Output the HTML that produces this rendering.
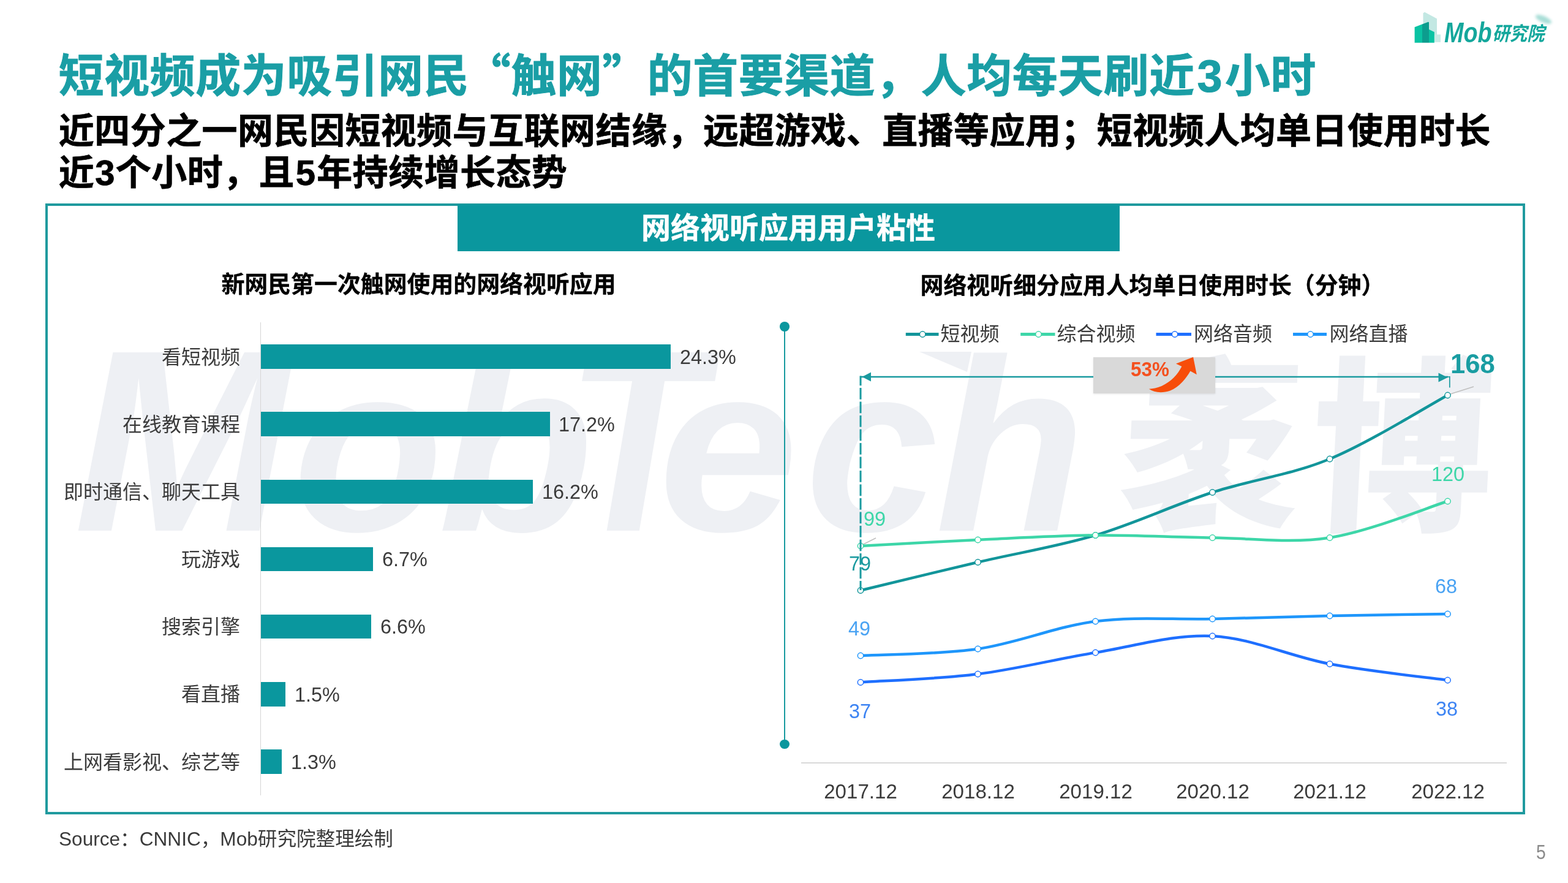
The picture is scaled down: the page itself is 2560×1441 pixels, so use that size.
<!DOCTYPE html>
<html lang="zh-CN">
<head>
<meta charset="utf-8">
<title>短视频成为吸引网民“触网”的首要渠道</title>
<style>
html,body{margin:0;padding:0;background:#fff;}
body{width:2560px;height:1441px;position:relative;overflow:hidden;font-family:"Liberation Sans","Noto Sans CJK SC",sans-serif;color:#000;}
.abs,.bl,.bar,.bv,.xl,.lg,.dl{position:absolute;white-space:nowrap;}
.cjk{font-family:"Noto Sans CJK SC",sans-serif;}
#title{left:95.8px;top:63.1px;font-size:73.8px;letter-spacing:0.7px;line-height:110px;font-weight:700;color:#1a9ea5;-webkit-text-stroke:1px #1a9ea5;}
#sub{left:95.8px;top:180.3px;font-size:58px;letter-spacing:0.45px;line-height:67.5px;font-weight:700;color:#000;-webkit-text-stroke:0.75px #000;}
#box{left:73.6px;top:332px;width:2408.9px;height:989.4px;border:4px solid #1f9a9e;}
#banner{left:746.5px;top:334px;width:1081px;height:76px;background:#0a979e;color:#fff;font-size:48px;font-weight:700;line-height:78.4px;text-align:center;-webkit-text-stroke:0.4px #fff;}
.ct{font-size:37.9px;font-weight:700;line-height:50px;color:#000;text-align:center;-webkit-text-stroke:0.35px #000;}
#ct1{left:283.5px;width:800px;top:438.5px;}
#ct2{left:1481.5px;width:800px;top:441px;}
#axis{left:424.5px;top:526px;width:1.8px;height:772px;background:#d6d6d6;}
.bl{left:0;width:392px;text-align:right;font-size:32px;line-height:48px;color:#3b3b3b;}
.bar{left:426.3px;height:39.6px;background:#0a979e;}
.bv{font-size:34px;line-height:48px;color:#3b3b3b;transform:scaleX(0.953);transform-origin:0 50%;}
#div{left:1279.9px;top:533px;width:2.2px;height:681px;background:#189a9f;}
.dot{position:absolute;width:15.6px;height:15.6px;border-radius:50%;background:#0a979e;left:1273.1px;}
#xaxis{left:1307.5px;top:1244px;width:1152.5px;height:2px;background:#d9d9d9;}
.xl{width:200px;text-align:center;top:1267.3px;font-size:34px;line-height:48px;color:#3b3b3b;transform:scaleX(0.973);}
.lg{top:521px;font-size:32px;line-height:48px;color:#3b3b3b;}
.dl{font-size:34px;line-height:40px;transform:scaleX(0.953);transform-origin:0 50%;}
#gbox{left:1785px;top:583px;width:199.2px;height:59.4px;background:#d9d9d9;box-shadow:0 1px 3px rgba(0,0,0,0.10);}
#src{left:96px;top:1345px;font-size:31.6px;line-height:48px;color:#3a3a3a;}
#pg{left:2499.5px;width:32px;text-align:center;top:1366.5px;font-size:33px;line-height:48px;color:#8a8a8a;transform:scaleX(0.86);}
svg{position:absolute;left:0;top:0;overflow:visible;}
</style>
</head>
<body>
<svg id="wmsvg" width="2560" height="1441" viewBox="0 0 2560 1441" font-family="'Liberation Sans','Noto Sans CJK SC',sans-serif" font-weight="700" font-style="italic" fill="#eef0f4">
<text y="866"><tspan x="120.4" font-size="423">M</tspan><tspan x="478" font-size="390" textLength="246" lengthAdjust="spacingAndGlyphs">o</tspan><tspan x="715" font-size="401" textLength="254" lengthAdjust="spacingAndGlyphs">b</tspan><tspan x="924" font-size="423" textLength="225.3" lengthAdjust="spacingAndGlyphs">T</tspan><tspan x="1075" font-size="390" textLength="228" lengthAdjust="spacingAndGlyphs">e</tspan><tspan x="1315" font-size="390">c</tspan><tspan x="1527" font-size="401">h</tspan></text>
<path d="M1501,574 L1586,574 L1579,607 Z"/>
<text transform="translate(1822,842) skewX(-3) scale(0.97,1)" x="0" y="0" font-family="'Noto Sans CJK SC',sans-serif" font-weight="900" font-style="normal" font-size="306">袤<tspan dx="17.7">博</tspan></text>
</svg>

<div id="title" class="abs">短视频成为吸引网民<span class="cjk" style="margin-left:-6.3px">“</span>触网<span class="cjk" style="margin-right:-1.2px">”</span>的首要渠道，人均每天刷近<span style="margin:0 3.7px">3</span>小时</div>
<div id="sub" class="abs">近四分之一网民因短视频与互联网结缘，远超游戏、直播等应用；短视频人均单日使用时长<br>近<span style="margin:0 0.9px">3</span>个小时，且<span style="margin:0 1.6px 0 1.8px">5</span>年持续增长态势</div>

<div id="box" class="abs"></div>
<div id="banner" class="abs">网络视听应用用户粘性</div>

<div id="ct1" class="abs ct">新网民第一次触网使用的网络视听应用</div>
<div id="ct2" class="abs ct">网络视听细分应用人均单日使用时长（分钟）</div>

<div id="axis" class="abs"></div>
<div class="bl" style="top:558.6px">看短视频</div>
<div class="bar" style="top:562.2px;width:668.6px"></div>
<div class="bv" style="top:557.7px;left:1109.5px">24.3%</div>
<div class="bl" style="top:668.8px">在线教育课程</div>
<div class="bar" style="top:672.4px;width:471.5px"></div>
<div class="bv" style="top:667.9px;left:912.4px">17.2%</div>
<div class="bl" style="top:778.9px">即时通信、聊天工具</div>
<div class="bar" style="top:782.5px;width:443.7px"></div>
<div class="bv" style="top:778.0px;left:884.6px">16.2%</div>
<div class="bl" style="top:889.1px">玩游戏</div>
<div class="bar" style="top:892.7px;width:183.0px"></div>
<div class="bv" style="top:888.2px;left:623.9px">6.7%</div>
<div class="bl" style="top:999.2px">搜索引擎</div>
<div class="bar" style="top:1002.8px;width:180.2px"></div>
<div class="bv" style="top:998.3px;left:621.1px">6.6%</div>
<div class="bl" style="top:1109.4px">看直播</div>
<div class="bar" style="top:1113.0px;width:40.1px"></div>
<div class="bv" style="top:1108.5px;left:481.0px">1.5%</div>
<div class="bl" style="top:1219.5px">上网看影视、综艺等</div>
<div class="bar" style="top:1223.1px;width:33.9px"></div>
<div class="bv" style="top:1218.6px;left:474.8px">1.3%</div>

<div id="div" class="abs"></div>
<div class="dot" style="top:525.2px"></div>
<div class="dot" style="top:1206.6px"></div>

<div id="gbox" class="abs"></div>
<svg width="2560" height="1441" viewBox="0 0 2560 1441">
<!-- span arrow -->
<!-- leader lines -->
<path d="M2368,643 L2406,631" stroke="#bfbfbf" stroke-width="1.5" fill="none"/>
<path d="M1408,889 L1430,878" stroke="#bfbfbf" stroke-width="1.5" fill="none"/>
<!-- legend -->
<path d="M1478.8,545.5 H1532.5" stroke="#12959a" stroke-width="5"/><circle cx="1506.2" cy="545.5" r="4.7" fill="#fff" stroke="#12959a" stroke-width="1.5"/>
<path d="M1666.2,545.5 H1722.5" stroke="#3dd6a8" stroke-width="5"/><circle cx="1695.5" cy="545.5" r="4.7" fill="#fff" stroke="#3dd6a8" stroke-width="1.5"/>
<path d="M1887.5,545.5 H1945.0" stroke="#1e6fff" stroke-width="5"/><circle cx="1918.0" cy="545.5" r="4.7" fill="#fff" stroke="#1e6fff" stroke-width="1.5"/>
<path d="M2111.0,545.5 H2166.0" stroke="#1e96fb" stroke-width="5"/><circle cx="2139.5" cy="545.5" r="4.7" fill="#fff" stroke="#1e96fb" stroke-width="1.5"/>
<!-- series -->
<path d="M1405.0,963.5 C1436.9,955.8 1532.6,932.5 1596.5,917.5 C1660.4,902.5 1724.7,892.5 1788.5,873.5 C1852.3,854.5 1915.8,824.2 1979.5,803.5 C2043.2,782.8 2107.0,775.4 2171.0,749.0 C2235.0,722.6 2331.4,662.3 2363.5,645.0" fill="none" stroke="#12959a" stroke-width="4.5" stroke-linecap="round" stroke-linejoin="round"/>
<circle cx="1405.0" cy="963.5" r="4.7" fill="#fff" stroke="#12959a" stroke-width="1.5"/>
<circle cx="1596.5" cy="917.5" r="4.7" fill="#fff" stroke="#12959a" stroke-width="1.5"/>
<circle cx="1788.5" cy="873.5" r="4.7" fill="#fff" stroke="#12959a" stroke-width="1.5"/>
<circle cx="1979.5" cy="803.5" r="4.7" fill="#fff" stroke="#12959a" stroke-width="1.5"/>
<circle cx="2171.0" cy="749.0" r="4.7" fill="#fff" stroke="#12959a" stroke-width="1.5"/>
<circle cx="2363.5" cy="645.0" r="4.7" fill="#fff" stroke="#12959a" stroke-width="1.5"/>
<path d="M1405.0,891.0 C1436.9,889.3 1532.6,883.9 1596.5,881.0 C1660.4,878.1 1724.7,874.1 1788.5,873.5 C1852.3,872.9 1915.8,876.8 1979.5,877.5 C2043.2,878.2 2107.0,887.4 2171.0,877.5 C2235.0,867.6 2331.4,827.9 2363.5,818.0" fill="none" stroke="#3dd6a8" stroke-width="4.5" stroke-linecap="round" stroke-linejoin="round"/>
<circle cx="1405.0" cy="891.0" r="4.7" fill="#fff" stroke="#3dd6a8" stroke-width="1.5"/>
<circle cx="1596.5" cy="881.0" r="4.7" fill="#fff" stroke="#3dd6a8" stroke-width="1.5"/>
<circle cx="1788.5" cy="873.5" r="4.7" fill="#fff" stroke="#3dd6a8" stroke-width="1.5"/>
<circle cx="1979.5" cy="877.5" r="4.7" fill="#fff" stroke="#3dd6a8" stroke-width="1.5"/>
<circle cx="2171.0" cy="877.5" r="4.7" fill="#fff" stroke="#3dd6a8" stroke-width="1.5"/>
<circle cx="2363.5" cy="818.0" r="4.7" fill="#fff" stroke="#3dd6a8" stroke-width="1.5"/>
<path d="M1405.0,1113.5 C1436.9,1111.2 1532.6,1108.1 1596.5,1100.0 C1660.4,1091.9 1724.7,1075.3 1788.5,1065.0 C1852.3,1054.7 1915.8,1034.9 1979.5,1038.0 C2043.2,1041.1 2107.0,1071.5 2171.0,1083.5 C2235.0,1095.5 2331.4,1105.6 2363.5,1110.0" fill="none" stroke="#1e6fff" stroke-width="4.5" stroke-linecap="round" stroke-linejoin="round"/>
<circle cx="1405.0" cy="1113.5" r="4.7" fill="#fff" stroke="#1e6fff" stroke-width="1.5"/>
<circle cx="1596.5" cy="1100.0" r="4.7" fill="#fff" stroke="#1e6fff" stroke-width="1.5"/>
<circle cx="1788.5" cy="1065.0" r="4.7" fill="#fff" stroke="#1e6fff" stroke-width="1.5"/>
<circle cx="1979.5" cy="1038.0" r="4.7" fill="#fff" stroke="#1e6fff" stroke-width="1.5"/>
<circle cx="2171.0" cy="1083.5" r="4.7" fill="#fff" stroke="#1e6fff" stroke-width="1.5"/>
<circle cx="2363.5" cy="1110.0" r="4.7" fill="#fff" stroke="#1e6fff" stroke-width="1.5"/>
<path d="M1405.0,1070.0 C1436.9,1068.2 1532.6,1068.3 1596.5,1059.0 C1660.4,1049.7 1724.7,1022.2 1788.5,1014.0 C1852.3,1005.8 1915.8,1011.5 1979.5,1010.0 C2043.2,1008.5 2107.0,1006.3 2171.0,1005.0 C2235.0,1003.7 2331.4,1002.5 2363.5,1002.0" fill="none" stroke="#1e96fb" stroke-width="4.5" stroke-linecap="round" stroke-linejoin="round"/>
<circle cx="1405.0" cy="1070.0" r="4.7" fill="#fff" stroke="#1e96fb" stroke-width="1.5"/>
<circle cx="1596.5" cy="1059.0" r="4.7" fill="#fff" stroke="#1e96fb" stroke-width="1.5"/>
<circle cx="1788.5" cy="1014.0" r="4.7" fill="#fff" stroke="#1e96fb" stroke-width="1.5"/>
<circle cx="1979.5" cy="1010.0" r="4.7" fill="#fff" stroke="#1e96fb" stroke-width="1.5"/>
<circle cx="2171.0" cy="1005.0" r="4.7" fill="#fff" stroke="#1e96fb" stroke-width="1.5"/>
<circle cx="2363.5" cy="1002.0" r="4.7" fill="#fff" stroke="#1e96fb" stroke-width="1.5"/>
<!-- span arrow -->
<path d="M1404,615 H1785 M1984,615 H2364" stroke="#1a9a9f" stroke-width="2.4" fill="none"/>
<path d="M1407.5,615 L1422,607.5 L1422,622.5 Z M2363.5,616 L2348.5,608.5 L2348.5,623.5 Z" fill="#1a9a9f"/>
<path d="M1405,613.5 V963" stroke="#1a9a9f" stroke-width="3" stroke-dasharray="18.75 3.75" stroke-dashoffset="3" fill="none"/>
<path d="M2362,615 H2367 M2366.8,614 V632.5" stroke="#1a9a9f" stroke-width="1.7" fill="none"/>
<!-- growth arrow -->
<path d="M1875.9,634.7 C1884,640.5 1897,642 1910.6,637.5 C1925,632 1937,617 1943.4,605.6 L1953.8,611.3 L1948.1,582.7 L1920,593.4 L1929.4,598.1 C1923,611 1912,623 1896.6,630 C1889,633 1882,634.5 1875.9,634.7 Z" fill="#f74d0a"/>
</svg>
<div class="lg" style="left:1535.5px">短视频</div>
<div class="lg" style="left:1725.5px">综合视频</div>
<div class="lg" style="left:1949.0px">网络音频</div>
<div class="lg" style="left:2170.5px">网络直播</div>
<div id="xaxis" class="abs"></div>
<div class="xl" style="left:1305.0px">2017.12</div>
<div class="xl" style="left:1496.5px">2018.12</div>
<div class="xl" style="left:1688.5px">2019.12</div>
<div class="xl" style="left:1879.5px">2020.12</div>
<div class="xl" style="left:2071.0px">2021.12</div>
<div class="xl" style="left:2263.5px">2022.12</div>

<div class="dl" style="left:1846px;top:582.5px;font-weight:700;color:#f4501e;font-size:33px" id="p53">53%</div>
<div class="dl" style="left:2368.0px;top:570.3px;font-weight:700;color:#1a9da2;font-size:43.6px;line-height:48px;transform:none" id="l168">168</div>
<div class="dl" style="left:2337.0px;top:752.6px;color:#3dd6a8" id="l120">120</div>
<div class="dl" style="left:1409.5px;top:826.4px;color:#3dd6a8" id="l99">99</div>
<div class="dl" style="left:1385.5px;top:899.0px;color:#1a9a9f" id="l79">79</div>
<div class="dl" style="left:1385px;top:1005px;color:#4aa3f3" id="l49">49</div>
<div class="dl" style="left:1386.0px;top:1140.0px;color:#3d84f3" id="l37">37</div>
<div class="dl" style="left:2343.4px;top:935.5px;color:#4aa3f3" id="l68">68</div>
<div class="dl" style="left:2344.4px;top:1136.0px;color:#3d84f3" id="l38">38</div>

<div id="src" class="abs">Source：CNNIC，Mob研究院整理绘制</div>
<div id="pg" class="abs">5</div>

<svg id="logo" width="2560" height="120" viewBox="0 0 2560 120">
<defs><filter id="bl" x="-50%" y="-50%" width="200%" height="200%"><feGaussianBlur stdDeviation="2.2"/></filter></defs>
<ellipse cx="2520" cy="31.5" rx="14" ry="5.2" transform="rotate(24 2520 31.5)" fill="#9ad8d0" opacity="0.85" filter="url(#bl)"/>
<path d="M2323.5,21.5 L2326,19.8 L2346,30.4 L2346,58 L2323.5,58 Z" fill="#c3e8e3"/>
<path d="M2342,56.3 H2352 V68.8 H2342 Z" fill="#c9ebe6"/>
<path d="M2309.6,44.3 L2322,39.6 L2322,69.7 L2309.6,69.7 Z" fill="#0ac3a3"/>
<path d="M2322,39.6 L2331.9,35.8 L2333,36.6 L2333,69.7 L2322,69.7 Z" fill="#0d9d8e"/>
<path d="M2333,47.9 L2341.8,52.3 L2341.8,69.7 L2333,69.7 Z" fill="#0ac3a3"/>
<text font-family="'Liberation Sans','Noto Sans CJK SC',sans-serif" font-weight="700" font-style="italic" fill="#14a79c"><tspan x="2358" y="69.3" font-size="47" textLength="77.5" lengthAdjust="spacingAndGlyphs">Mob</tspan><tspan x="2436.5" y="66.4" font-size="31.5" textLength="85" lengthAdjust="spacingAndGlyphs">研究院</tspan></text>
</svg>
</body>
</html>
